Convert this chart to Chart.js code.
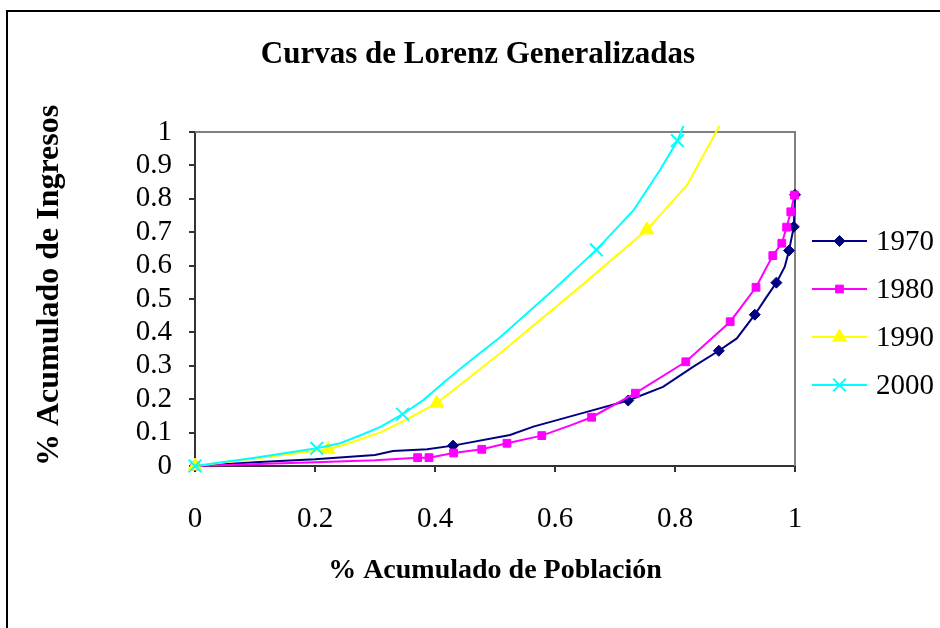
<!DOCTYPE html>
<html>
<head>
<meta charset="utf-8">
<script src="https://cdn.jsdelivr.net/npm/chart.js@4"></script>
<style>
html, body { margin: 0; padding: 0; background: #fff; }
#wrap { width: 940px; height: 628px; position: relative; }
</style>
</head>
<body>
<div id="wrap"><canvas id="c" width="940" height="628"></canvas></div>
<script>
// ---- data ----
const seriesNames = ['1970', '1980', '1990', '2000'];

const x1970 = [0, 0.1, 0.2, 0.3, 0.33, 0.387, 0.43, 0.525, 0.564, 0.647, 0.722, 0.78, 0.83, 0.873, 0.903, 0.933, 0.953, 0.969, 0.983, 0.99, 0.998, 1.0];
const y1970 = [0, 0.011, 0.02, 0.033, 0.045, 0.05, 0.061, 0.093, 0.118, 0.159, 0.196, 0.237, 0.297, 0.345, 0.382, 0.453, 0.507, 0.549, 0.597, 0.645, 0.716, 0.812];
const marked1970 = [0, 6, 10, 13, 15, 17, 19, 20, 21];

const x1980 = [0, 0.2, 0.3, 0.371, 0.39, 0.431, 0.478, 0.52, 0.578, 0.628, 0.661, 0.734, 0.818, 0.892, 0.935, 0.963, 0.978, 0.986, 0.993, 0.999];
const y1980 = [0, 0.011, 0.017, 0.025, 0.025, 0.039, 0.05, 0.068, 0.091, 0.123, 0.146, 0.218, 0.312, 0.432, 0.535, 0.63, 0.667, 0.715, 0.761, 0.811];
const marked1980 = [0, 3, 4, 5, 6, 7, 8, 10, 11, 12, 13, 14, 15, 16, 17, 18, 19];

const x1990 = [0, 0.222, 0.253, 0.308, 0.346, 0.403, 0.508, 0.642, 0.753, 0.82, 0.874];
const y1990 = [0, 0.05, 0.066, 0.1, 0.133, 0.188, 0.337, 0.537, 0.707, 0.841, 1.018];
const marked1990 = [0, 1, 5, 8];

const x2000 = [0, 0.1, 0.203, 0.242, 0.28, 0.31, 0.346, 0.381, 0.419, 0.453, 0.508, 0.597, 0.669, 0.731, 0.775, 0.804, 0.814];
const y2000 = [0, 0.025, 0.053, 0.068, 0.095, 0.118, 0.155, 0.198, 0.257, 0.307, 0.385, 0.527, 0.647, 0.766, 0.886, 0.974, 1.018];
const marked2000 = [0, 2, 6, 12, 15];

const xTickLabels = ['0', '0.2', '0.4', '0.6', '0.8', '1'];
const yTickLabels = ['0', '0.1', '0.2', '0.3', '0.4', '0.5', '0.6', '0.7', '0.8', '0.9', '1'];

const chartTitle = 'Curvas de Lorenz Generalizadas';
const xTitle = '% Acumulado de Población';
const yTitle = '% Acumulado de Ingresos';

// ---- styles ----
const FONT = "'Liberation Serif', 'Times New Roman', serif";
const styles = [
  { color: '#000080', pointStyle: 'rectRot', radius: 5.5, borderWidth: 1 },
  { color: '#FF00FF', pointStyle: 'rect', radius: 5.5, borderWidth: 1 },
  { color: '#FFFF00', pointStyle: 'triangle', radius: 8, borderWidth: 1 },
  { color: '#00FFFF', pointStyle: 'crossRot', radius: 9, borderWidth: 2 }
];

const xs = [x1970, x1980, x1990, x2000];
const ys = [y1970, y1980, y1990, y2000];
const marks = [marked1970, marked1980, marked1990, marked2000];

const datasets = seriesNames.map((name, i) => {
  const st = styles[i];
  return {
    label: name,
    data: xs[i].map((x, j) => ({ x: x, y: ys[i][j] })),
    borderColor: st.color,
    backgroundColor: st.color,
    borderWidth: 2,
    pointStyle: st.pointStyle,
    pointBorderColor: st.color,
    pointBackgroundColor: st.color,
    pointBorderWidth: st.borderWidth,
    pointRadius: (ctx) => marks[i].includes(ctx.dataIndex) ? st.radius : 0,
    tension: 0,
    clip: 10,
    order: 3 - i
  };
});

const framePlugin = {
  id: 'frame',
  beforeDraw(chart) {
    const ctx = chart.ctx;
    ctx.save();
    ctx.fillStyle = '#fff';
    ctx.fillRect(0, 0, chart.width, chart.height);
    ctx.strokeStyle = '#000';
    ctx.lineWidth = 2;
    ctx.strokeRect(7, 11, chart.width + 20, chart.height + 20);
    ctx.restore();
  },
  beforeDatasetsDraw(chart) {
    const a = chart.chartArea;
    const ctx = chart.ctx;
    ctx.save();
    ctx.strokeStyle = '#808080';
    ctx.lineWidth = 2;
    ctx.beginPath();
    ctx.moveTo(a.left, a.top);
    ctx.lineTo(a.right, a.top);
    ctx.lineTo(a.right, a.bottom);
    ctx.stroke();
    ctx.restore();
  },
  afterDraw(chart) {
    const ctx = chart.ctx;
    ctx.save();
    // title
    ctx.fillStyle = '#000';
    ctx.font = 'bold 31px ' + FONT;
    ctx.textAlign = 'center';
    ctx.textBaseline = 'middle';
    ctx.fillText(chartTitle, 478, 55);
    // legend
    seriesNames.forEach((name, i) => {
      const st = styles[i];
      const y = 241 + 48 * i;
      ctx.strokeStyle = st.color;
      ctx.lineWidth = 2;
      ctx.beginPath();
      ctx.moveTo(812, y);
      ctx.lineTo(867, y);
      ctx.stroke();
      ctx.fillStyle = st.color;
      ctx.lineWidth = st.borderWidth;
      Chart.helpers.drawPoint(ctx, { pointStyle: st.pointStyle, radius: st.radius, rotation: 0, borderWidth: st.borderWidth }, 839.5, y);
      ctx.fillStyle = '#000';
      ctx.font = '29px ' + FONT;
      ctx.textAlign = 'left';
      ctx.textBaseline = 'middle';
      ctx.fillText(name, 876, y + 1);
    });
    ctx.restore();
  }
};

new Chart(document.getElementById('c'), {
  type: 'line',
  data: { datasets: datasets },
  plugins: [framePlugin],
  options: {
    responsive: false,
    animation: false,
    events: [],
    layout: { padding: { top: 132, right: 145, bottom: 0, left: 0 } },
    plugins: {
      legend: { display: false },
      title: { display: false },
      tooltip: { enabled: false }
    },
    scales: {
      x: {
        type: 'linear',
        min: 0, max: 1,
        afterFit: (s) => { s.height = 162; },
        ticks: {
          stepSize: 0.2, autoSkip: false, maxRotation: 0, padding: 30,
          color: '#000', font: { family: FONT, size: 29 },
          callback: (v, idx) => xTickLabels[idx]
        },
        grid: { drawOnChartArea: false, drawTicks: true, tickLength: 6, color: '#333', lineWidth: 2 },
        border: { display: true, color: '#333', width: 2 },
        title: {
          display: true, text: xTitle, color: '#000',
          font: { family: FONT, size: 28, weight: 'bold' },
          padding: { top: 0, bottom: 40 }
        }
      },
      y: {
        type: 'linear',
        min: 0, max: 1,
        afterFit: (s) => { s.width = 195; },
        ticks: {
          stepSize: 0.1, autoSkip: false, padding: 17,
          color: '#000', font: { family: FONT, size: 29 },
          callback: (v, idx) => yTickLabels[idx]
        },
        grid: { drawOnChartArea: false, drawTicks: true, tickLength: 6, color: '#333', lineWidth: 2 },
        border: { display: true, color: '#333', width: 2 },
        title: {
          display: true, text: yTitle, color: '#000', align: 'start',
          font: { family: FONT, size: 32, weight: 'bold' },
          padding: { top: 31, bottom: 0 }
        }
      }
    }
  }
});
</script>
</body>
</html>
